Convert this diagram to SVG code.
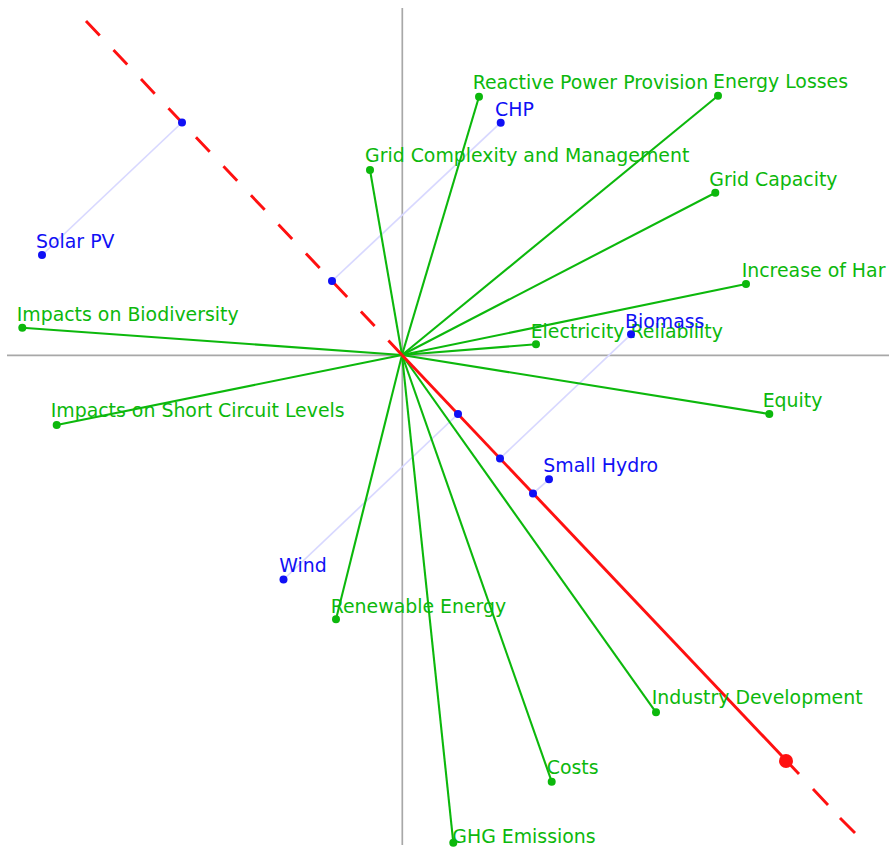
<svg xmlns="http://www.w3.org/2000/svg" width="889" height="847" viewBox="0 0 889 847">
<style>
text{font-family:"DejaVu Sans",Verdana,sans-serif;font-size:18.9px}
.crit text{fill:#0cb80c}
.crit circle{fill:#0cb80c}
.alt text{fill:#1010f5}
.alt circle{fill:#1010f5}
.ray{stroke:#0cb80c;stroke-width:2.1;fill:none}
.proj{stroke:#d8d8ff;stroke-width:1.7;fill:none}
.axis{stroke:#a8a8a8;stroke-width:1.7;fill:none}
.dec{stroke:#ff1010;stroke-width:2.9;fill:none}
.dash{stroke-dasharray:20 20}
</style>
<rect width="889" height="847" fill="#ffffff"/>
<g id="axes">
<line class="axis" x1="402.3" y1="8" x2="402.3" y2="845"/>
<line class="axis" x1="7" y1="355.3" x2="889" y2="355.3"/>
</g>
<g id="connectors">
<line class="proj" x1="42" y1="255" x2="182" y2="122.5"/>
<line class="proj" x1="500.7" y1="122.7" x2="332" y2="281"/>
<line class="proj" x1="631" y1="334.3" x2="500" y2="458.5"/>
<line class="proj" x1="549" y1="479.3" x2="533" y2="493.5"/>
<line class="proj" x1="283.5" y1="579.5" x2="458" y2="414"/>
<line class="ray" x1="402" y1="355" x2="479" y2="96.7"/>
<line class="ray" x1="402" y1="355" x2="718" y2="95.7"/>
<line class="ray" x1="402" y1="355" x2="370" y2="170"/>
<line class="ray" x1="402" y1="355" x2="715.3" y2="192.7"/>
<line class="ray" x1="402" y1="355" x2="746" y2="284"/>
<line class="ray" x1="402" y1="355" x2="22.3" y2="327.7"/>
<line class="ray" x1="402" y1="355" x2="536" y2="344.3"/>
<line class="ray" x1="402" y1="355" x2="769.3" y2="414"/>
<line class="ray" x1="402" y1="355" x2="56.7" y2="425"/>
<line class="ray" x1="402" y1="355" x2="336" y2="619.3"/>
<line class="ray" x1="402" y1="355" x2="453.3" y2="842.7"/>
<line class="ray" x1="402" y1="355" x2="551.7" y2="781.7"/>
<line class="ray" x1="402" y1="355" x2="656" y2="712.3"/>
<line class="dec dash" x1="86" y1="21" x2="402" y2="355"/>
<line class="dec" x1="402" y1="355" x2="799" y2="774"/>
<path class="dec" d="M813,789 L828,805 M840,818 L855,833"/>
</g>
<g id="decision-axis">
<circle cx="786" cy="761" r="7" fill="#ff1010"/>
</g>
<g id="crit-reactive-power" class="crit"><circle cx="479" cy="96.7" r="4"/><text x="472.7" y="89">Reactive Power Provision</text></g>
<g id="crit-energy-losses" class="crit"><circle cx="718" cy="95.7" r="4"/><text x="713" y="88">Energy Losses</text></g>
<g id="crit-grid-complexity" class="crit"><circle cx="370" cy="170" r="4"/><text x="365" y="162">Grid Complexity and Management</text></g>
<g id="crit-grid-capacity" class="crit"><circle cx="715.3" cy="192.7" r="4"/><text x="709.3" y="185.7">Grid Capacity</text></g>
<g id="crit-harmonics" class="crit"><circle cx="746" cy="284" r="4"/><text x="741.7" y="276.5">Increase of Har</text></g>
<g id="crit-biodiversity" class="crit"><circle cx="22.3" cy="327.7" r="4"/><text x="16.7" y="320.7">Impacts on Biodiversity</text></g>
<g id="crit-reliability" class="crit"><circle cx="536" cy="344.3" r="4"/><text x="530.7" y="338.3">Electricity Reliability</text></g>
<g id="crit-equity" class="crit"><circle cx="769.3" cy="414" r="4"/><text x="762.7" y="406.7">Equity</text></g>
<g id="crit-short-circuit" class="crit"><circle cx="56.7" cy="425" r="4"/><text x="50.7" y="417.3">Impacts on Short Circuit Levels</text></g>
<g id="crit-renewable" class="crit"><circle cx="336" cy="619.3" r="4"/><text x="330.7" y="612.7">Renewable Energy</text></g>
<g id="crit-ghg" class="crit"><circle cx="453.3" cy="842.7" r="4"/><text x="452.3" y="843">GHG Emissions</text></g>
<g id="crit-costs" class="crit"><circle cx="551.7" cy="781.7" r="4"/><text x="546.7" y="774.3">Costs</text></g>
<g id="crit-industry" class="crit"><circle cx="656" cy="712.3" r="4"/><text x="651.7" y="704">Industry Development</text></g>
<g id="alt-solar-pv" class="alt"><circle cx="42" cy="255" r="4"/><circle cx="182" cy="122.5" r="4"/><text x="36" y="248">Solar PV</text></g>
<g id="alt-chp" class="alt"><circle cx="500.7" cy="122.7" r="4"/><circle cx="332" cy="281" r="4"/><text x="495" y="115.7">CHP</text></g>
<g id="alt-biomass" class="alt"><circle cx="631" cy="334.3" r="4"/><circle cx="500" cy="458.5" r="4"/><text x="625" y="327.7">Biomass</text></g>
<g id="alt-small-hydro" class="alt"><circle cx="549" cy="479.3" r="4"/><circle cx="533" cy="493.5" r="4"/><text x="543.3" y="471.7">Small Hydro</text></g>
<g id="alt-wind" class="alt"><circle cx="283.5" cy="579.5" r="4"/><circle cx="458" cy="414" r="4"/><text x="279.3" y="571.7">Wind</text></g>
</svg>
